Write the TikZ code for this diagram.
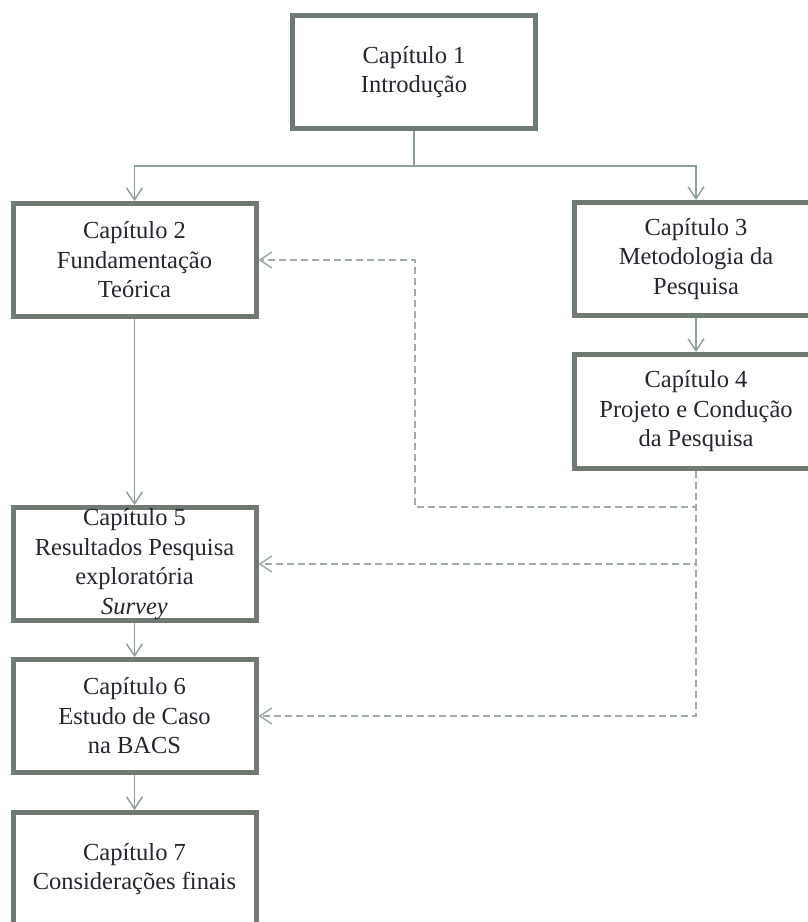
\documentclass[tikz,border=0pt]{standalone}
\usepackage{fontspec}
\setmainfont{Liberation Serif}
\usetikzlibrary{arrows.meta}

\definecolor{boxline}{RGB}{110,122,114}
\definecolor{linkline}{RGB}{140,160,150}
\definecolor{dashline}{RGB}{160,172,166}
\definecolor{txt}{RGB}{38,38,46}

\begin{document}
\begin{tikzpicture}[x=1pt,y=-1pt,
  chapter/.style={draw=boxline, line width=5pt, fill=white, rectangle,
    minimum width=243pt, minimum height=113pt, inner sep=0pt,
    align=center, text=txt, font=\fontsize{24.5}{29.5}\selectfont},
  tall/.style={minimum height=114pt},
  vtip/.style={-{Straight Barb[length=12pt,width=16pt]}},
  link/.style={draw=linkline, line width=1.4pt},
  feedback/.style={draw=dashline, line width=1.5pt, dash pattern=on 7pt off 4pt}]

\useasboundingbox (0,0) rectangle (808,922);

% chapter boxes
\node[chapter] (c1) at (414,72)    {Capítulo 1\\Introdução};
\node[chapter] (c2) at (134.5,260) {Capítulo 2\\Fundamentação\\Teórica};
\node[chapter] (c3) at (696,259)   {Capítulo 3\\Metodologia da\\Pesquisa};
\node[chapter,tall] (c4) at (696,411.5) {Capítulo 4\\Projeto e Condução\\da Pesquisa};
\node[chapter] (c5) at (134.5,564) {Capítulo 5\\Resultados Pesquisa\\exploratória\\\textit{Survey}};
\node[chapter] (c6) at (134.5,716) {Capítulo 6\\Estudo de Caso\\na BACS};
\node[chapter] (c7) at (134.5,869) {Capítulo 7\\Considerações finais};

% split below the introduction
\coordinate (split) at (414,166);
\draw[link] (c1.south) -- (split);
\draw[link,vtip] (split) -| (c2.north);
\draw[link,vtip] (split) -| (c3.north);

% main sequence
\draw[link,vtip] (c3.south) -- (c4.north);
\draw[link,vtip] (c2.south) -- (c5.north);
\draw[link,vtip] (c5.south) -- (c6.north);
\draw[link,vtip] (c6.south) -- (c7.north);

% feedback from chapter 4
\coordinate (bend) at (415,507);
\draw[feedback,vtip] (c4.south) |- (bend) |- (c2.east);
\draw[feedback,vtip] (c4.south) |- (c5.east);
\draw[feedback,vtip] (c4.south) |- (c6.east);

\end{tikzpicture}
\end{document}
